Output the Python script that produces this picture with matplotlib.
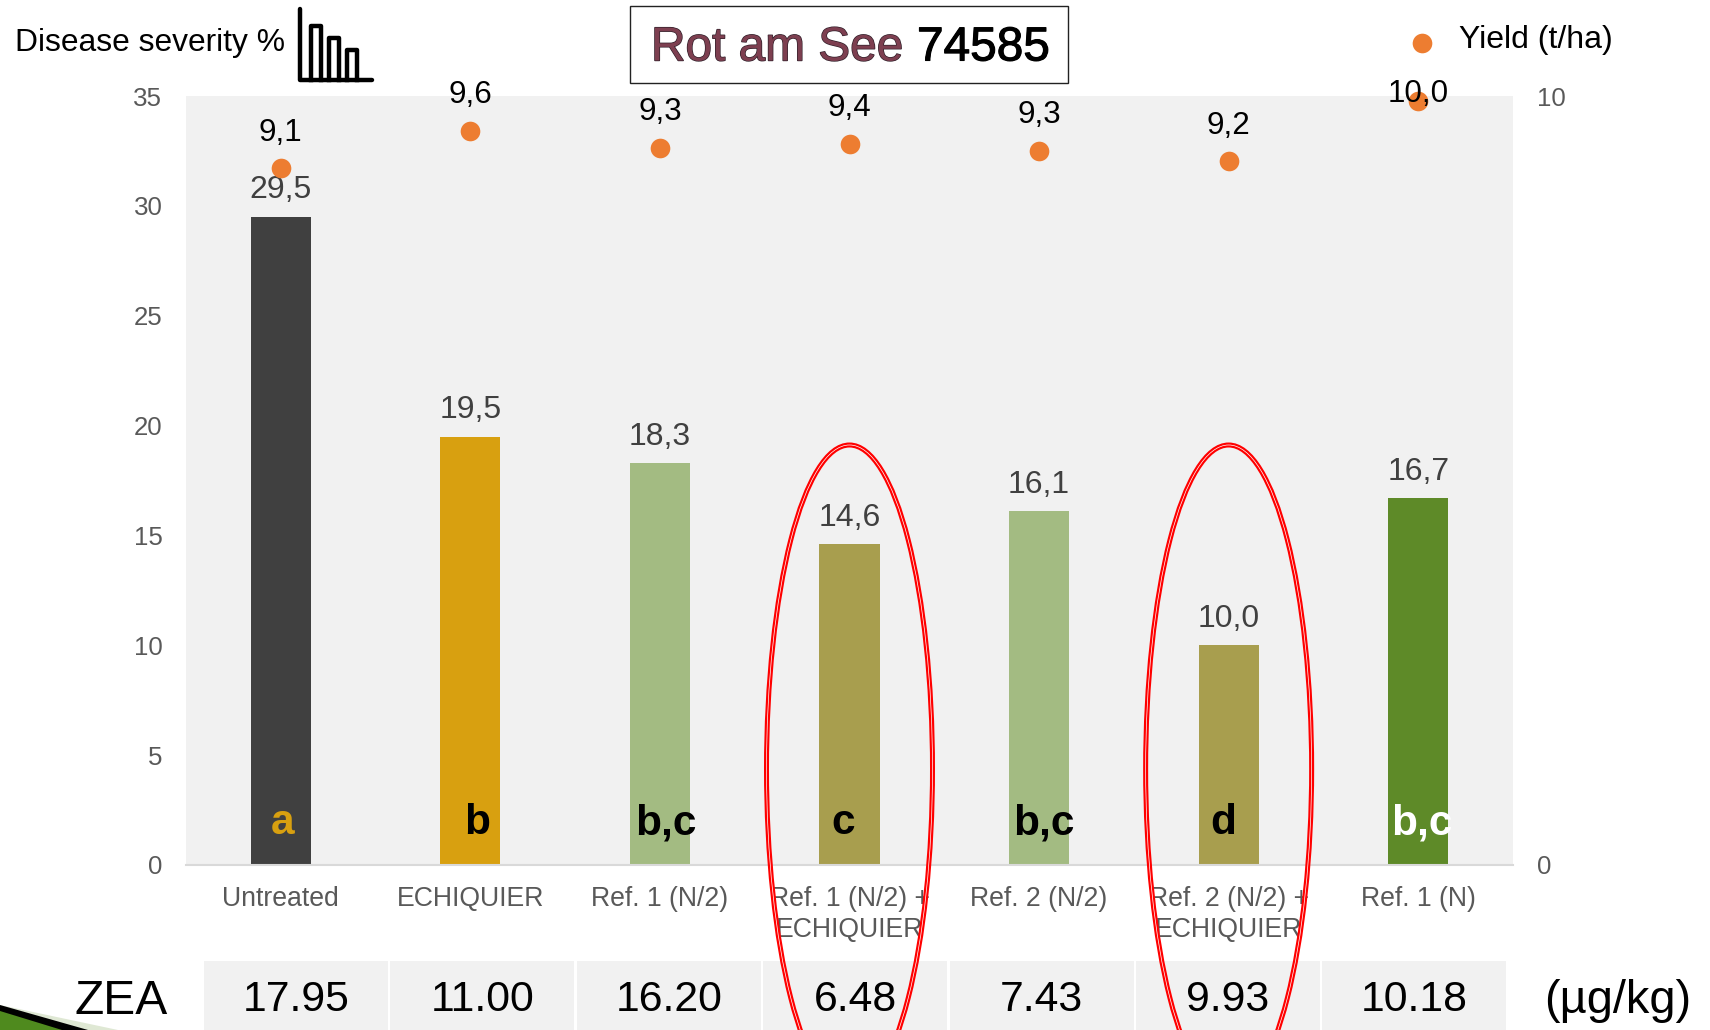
import matplotlib
matplotlib.use("Agg")
import matplotlib.pyplot as plt
import matplotlib.patheffects as pe
from matplotlib.patches import Ellipse, Polygon, Rectangle

plt.rcParams['font.family'] = ['Liberation Sans', 'DejaVu Sans']

# data
categories = ["Untreated", "ECHIQUIER", "Ref. 1 (N/2)", "Ref. 1 (N/2) +\nECHIQUIER",
              "Ref. 2 (N/2)", "Ref. 2 (N/2) +\nECHIQUIER", "Ref. 1 (N)"]
severity = [29.5, 19.5, 18.3, 14.6, 16.1, 10.0, 16.7]
severity_labels = ["29,5", "19,5", "18,3", "14,6", "16,1", "10,0", "16,7"]
yield_pos = [9.06, 9.55, 9.33, 9.38, 9.29, 9.15, 9.94]
yield_labels = ["9,1", "9,6", "9,3", "9,4", "9,3", "9,2", "10,0"]
letters = ["a", "b", "b,c", "c", "b,c", "d", "b,c"]
zea = ["17.95", "11.00", "16.20", "6.48", "7.43", "9.93", "10.18"]
bar_colors = ["#404040", "#d8a010", "#a3bb82", "#a89e4e", "#a3bb82", "#a89e4e", "#5e8a28"]
letter_colors = ["#d8a010", "black", "black", "black", "black", "black", "white"]
circled = [3, 5]

W, H = 1710, 1030
fig = plt.figure(figsize=(W / 100, H / 100), dpi=100, facecolor="white")

# main axes, px box 186-1513 / 96-865
ax = fig.add_axes([186 / W, 1 - 865 / H, (1513 - 186) / W, (865 - 96) / H])
ax.set_facecolor("#f1f1f1")
x = list(range(len(categories)))
ax.bar(x, severity, width=0.317, color=bar_colors, zorder=2)
ax.set_xlim(-0.5, 6.5)
ax.set_ylim(0, 35)
ax.set_yticks(range(0, 40, 5))
ax.set_xticks(x)
ax.set_xticklabels(categories, linespacing=1.25)
ax.tick_params(axis="y", length=0, pad=17, labelsize=18.6, labelcolor="#595959")
ax.tick_params(axis="x", length=0, pad=15, labelsize=19.2, labelcolor="#595959")
for s in ["top", "left", "right"]:
    ax.spines[s].set_visible(False)
ax.spines["bottom"].set_color("#d9d9d9")
ax.spines["bottom"].set_linewidth(1.5)

for i, v in enumerate(severity):
    ax.annotate(severity_labels[i], (i, v), xytext=(0, 19), textcoords="offset points",
                ha="center", va="center", fontsize=23, color="#404040", zorder=5)

# letters sit a bit off centre in the original
letter_dx = [0.01, 0.035, 0.03, -0.035, 0.025, -0.03, 0.02]
for i, t in enumerate(letters):
    ax.text(i + letter_dx[i], 1.9, t, ha="center", va="center", fontsize=30.5,
            fontweight="bold", color=letter_colors[i], zorder=5)

ax2 = ax.twinx()
ax2.set_ylim(0, 10)
ax2.set_yticks([0, 10])
ax2.tick_params(axis="y", length=0, pad=17, labelsize=18.6, labelcolor="#595959")
for s in ax2.spines.values():
    s.set_visible(False)
ax2.scatter(x, yield_pos, s=200, color="#ed7d31", linewidths=0, clip_on=False, zorder=4)
for i, v in enumerate(yield_pos):
    off = 4.5 if i == 6 else 25.5
    ax2.annotate(yield_labels[i], (i, v), xytext=(0, off), textcoords="offset points",
                 ha="center", va="center", fontsize=22.6, color="black", zorder=6)

# overlay in pixel coords for everything around the chart
ov = fig.add_axes([0, 0, 1, 1], zorder=10)
ov.set_xlim(0, W)
ov.set_ylim(H, 0)
ov.axis("off")
ov.patch.set_alpha(0)

ov.text(15, 43, "Disease severity %", fontsize=22.9, va="center", color="black")

# little bar chart icon
ov.plot([300, 300, 372], [9, 80, 80], color="black", lw=3.2, solid_capstyle="round", solid_joinstyle="round")
for x0, top in [(311, 26), (329, 38), (347, 50)]:
    ov.plot([x0, x0, x0 + 10, x0 + 10], [80, top, top, 80], color="black", lw=3.2, solid_joinstyle="round")

# title box
ov.add_patch(Rectangle((630, 6), 438, 77, fc="white", ec="#222222", lw=1.0))
ov.text(651, 48, "Rot am See", fontsize=34.4, va="center", color="#7d3f50",
        path_effects=[pe.withStroke(linewidth=1.0, foreground="#30202a")])
ov.text(917, 48, "74585", fontsize=34.4, va="center", color="black",
        path_effects=[pe.withStroke(linewidth=0.8, foreground="black")])

# legend
ov.scatter([1422], [43], s=200, color="#ed7d31", linewidths=0)
ov.text(1459, 40, "Yield (t/ha)", fontsize=23, va="center", color="black")

# ZEA row
ov.text(121, 1001, "ZEA", fontsize=34.6, ha="center", va="center", color="black")
cell_x0, cell_w = 204, 186.4
for i, z in enumerate(zea):
    ov.add_patch(Rectangle((cell_x0 + i * cell_w, 961), cell_w - 2.5, 70, fc="#f1f1f1", ec="none"))
    ov.text(cell_x0 + i * cell_w + (cell_w - 2.5) / 2, 1000, z, fontsize=30.8, ha="center",
            va="center", color="black")
ov.text(1691, 1001, "(µg/kg)", fontsize=33.8, ha="right", va="center", color="black")

# corner of the slide decoration
ov.add_patch(Polygon([(0, 1005), (118, 1030), (0, 1030)], fc="#dfe8d4", ec="none"))
ov.add_patch(Polygon([(0, 1005), (88, 1030), (0, 1030)], fc="black", ec="none"))
ov.add_patch(Polygon([(0, 1011), (62, 1030), (0, 1030)], fc="#4f8a1e", ec="none"))

# hand drawn red ellipses
for i in circled:
    cx = 186 + (i + 0.5) * (1513 - 186) / 7
    ov.add_patch(Ellipse((cx, 769), 166, 648, fc="none", ec="red", lw=3.6))
    ov.add_patch(Ellipse((cx, 769), 166, 648, fc="none", ec="white", lw=0.5))

fig.savefig("out.png", dpi=100)
